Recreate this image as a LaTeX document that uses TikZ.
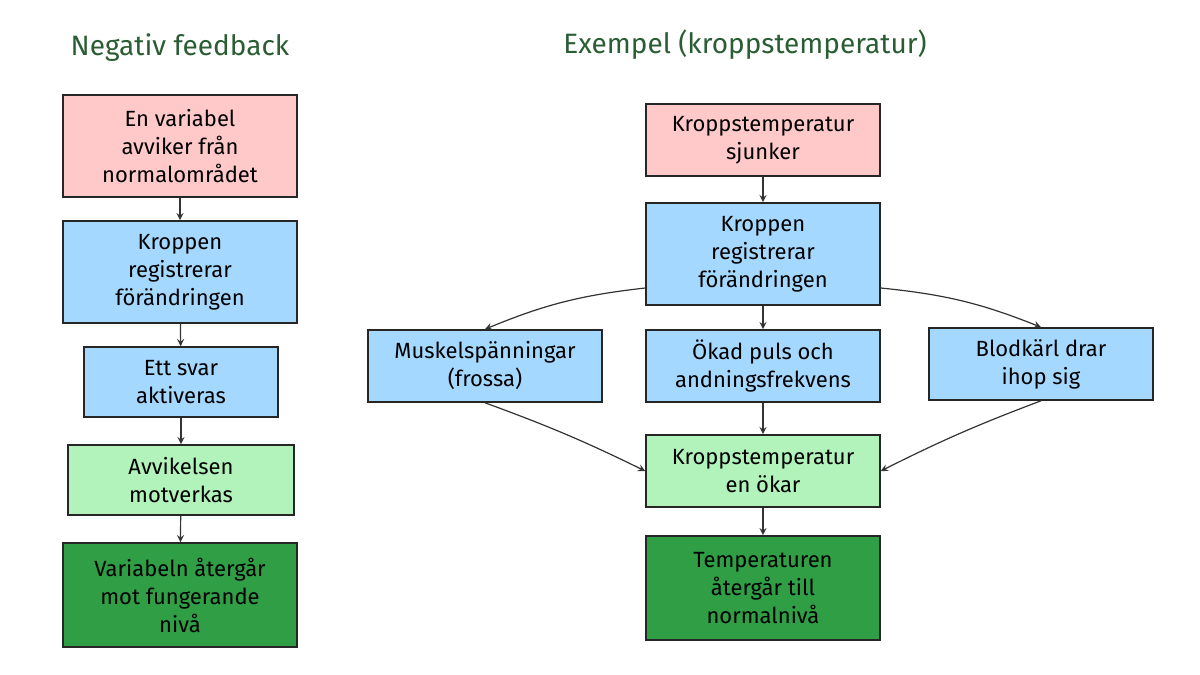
\documentclass[tikz,border=0pt]{standalone}
\usepackage{fontspec}
\setmainfont{Fira Sans}
\usetikzlibrary{positioning}
\definecolor{pinkbox}{HTML}{FFC9C9}
\definecolor{bluebox}{HTML}{A5D8FF}
\definecolor{lgreenbox}{HTML}{B2F2BB}
\definecolor{dgreenbox}{HTML}{2F9E44}
\definecolor{titlegreen}{HTML}{2B5D34}
\begin{document}
\begin{tikzpicture}[x=0.5pt,y=-0.5pt,font=\fontsize{11}{14}\selectfont,
    box/.style={draw=black!85,thick,align=center,inner sep=0pt},
    title/.style={font=\fontsize{14}{16}\selectfont,text=titlegreen},
    arr/.style={->,>=stealth,black!80,semithick}]
  \useasboundingbox (0,0) rectangle (1200,675);
  \node[title] (t1) at (180,48) {Negativ feedback};
  \node[title] (t2) at (745,45) {Exempel (kroppstemperatur)};

  \node[box,fill=pinkbox,minimum width=117pt,minimum height=51pt] (a1) at (180,146) {En variabel\\avviker från\\normalområdet};
  \node[box,fill=bluebox,minimum width=117pt,minimum height=51pt] (a2) at (180,272) {Kroppen\\registrerar\\förändringen};
  \node[box,fill=bluebox,minimum width=97pt,minimum height=35pt] (a3) at (181,382) {Ett svar\\aktiveras};
  \node[box,fill=lgreenbox,minimum width=113pt,minimum height=35pt] (a4) at (181,480) {Avvikelsen\\motverkas};
  \node[box,fill=dgreenbox,minimum width=117pt,minimum height=52pt] (a5) at (180,595) {Variabeln återgår\\mot fungerande\\nivå};
  \foreach \x/\y in {a1/a2,a2/a3,a3/a4,a4/a5}
    \draw[arr] (\x)--(\y);

  \node[box,fill=pinkbox,minimum width=117pt,minimum height=36pt] (b1) at (763,140) {Kroppstemperatur\\sjunker};
  \node[box,fill=bluebox,minimum width=117pt,minimum height=51pt] (b2) at (763,254) {Kroppen\\registrerar\\förändringen};
  \node[box,fill=bluebox,minimum width=117pt,minimum height=36pt] (b3) at (485,366) {Muskelspänningar\\(frossa)};
  \node[box,fill=bluebox,minimum width=117pt,minimum height=36pt] (b4) at (763,366) {Ökad puls och\\andningsfrekvens};
  \node[box,fill=bluebox,minimum width=112pt,minimum height=36pt] (b5) at (1041,364) {Blodkärl drar\\ihop sig};
  \node[box,fill=lgreenbox,minimum width=117pt,minimum height=36pt] (b6) at (763,471) {Kroppstemperatur\\en ökar};
  \node[box,fill=dgreenbox,minimum width=117pt,minimum height=52pt] (b7) at (763,588) {Temperaturen\\återgår till\\normalnivå};
  \foreach \x/\y in {b1/b2,b2/b4,b4/b6,b6/b7}
    \draw[arr] (\x)--(\y);
  \draw[arr] (b2.west|-0,288) to[bend right=8] (b3.north);
  \draw[arr] (b2.east|-0,288) to[bend left=8] (b5.north);
  \draw[arr] (b3.south) to[bend left=3] (b6.west);
  \draw[arr] (b5.south) to[bend right=3] (b6.east);
\end{tikzpicture}
\end{document}
